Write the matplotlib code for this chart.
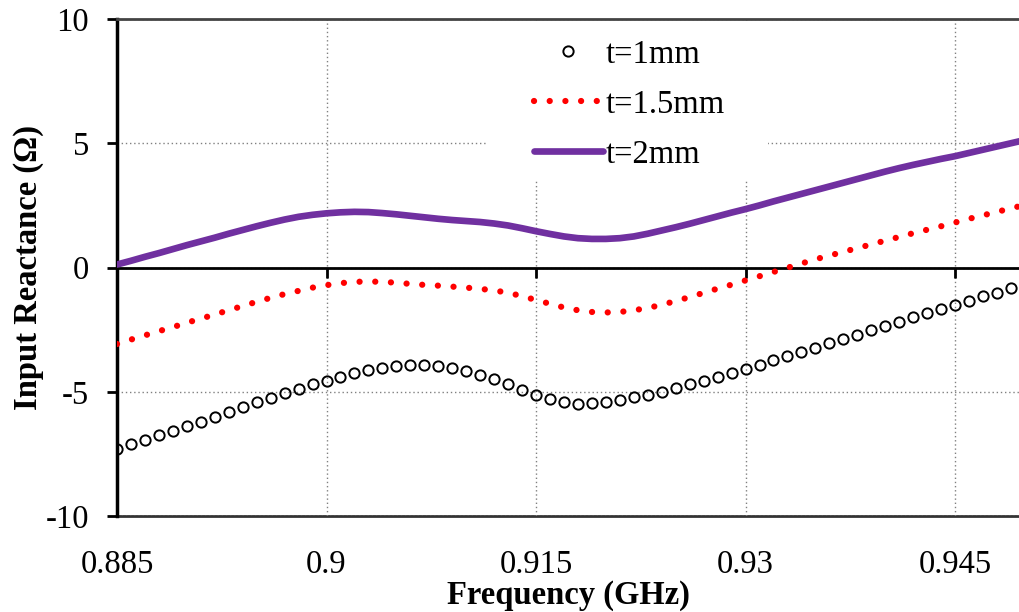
import matplotlib
matplotlib.use("Agg")
import numpy as np
import matplotlib.pyplot as plt
from matplotlib.patches import Rectangle

# Frequency grid (GHz), one reading every 1 MHz
freq = [0.885, 0.886, 0.887, 0.888, 0.889, 0.890, 0.891, 0.892, 0.893, 0.894,
        0.895, 0.896, 0.897, 0.898, 0.899, 0.900, 0.901, 0.902, 0.903, 0.904,
        0.905, 0.906, 0.907, 0.908, 0.909, 0.910, 0.911, 0.912, 0.913, 0.914,
        0.915, 0.916, 0.917, 0.918, 0.919, 0.920, 0.921, 0.922, 0.923, 0.924,
        0.925, 0.926, 0.927, 0.928, 0.929, 0.930, 0.931, 0.932, 0.933, 0.934,
        0.935, 0.936, 0.937, 0.938, 0.939, 0.940, 0.941, 0.942, 0.943, 0.944,
        0.945, 0.946, 0.947, 0.948, 0.949, 0.950]

# input reactance (ohm) for each thickness
x_t1 = [-7.31, -7.11, -6.94, -6.75, -6.57, -6.38, -6.20, -6.00, -5.81, -5.62,
        -5.43, -5.24, -5.07, -4.88, -4.70, -4.56, -4.40, -4.26, -4.13, -4.05,
        -3.98, -3.94, -3.94, -3.97, -4.05, -4.15, -4.31, -4.49, -4.70, -4.91,
        -5.12, -5.30, -5.42, -5.48, -5.47, -5.42, -5.34, -5.23, -5.12, -4.99,
        -4.85, -4.70, -4.56, -4.41, -4.25, -4.09, -3.91, -3.74, -3.56, -3.39,
        -3.23, -3.05, -2.88, -2.70, -2.53, -2.35, -2.18, -2.00, -1.83, -1.67,
        -1.49, -1.33, -1.16, -1.01, -0.83, -0.68]

x_t15 = [-3.08, -2.90, -2.73, -2.56, -2.40, -2.22, -2.06, -1.89, -1.72, -1.55,
         -1.38, -1.22, -1.07, -0.94, -0.81, -0.71, -0.63, -0.58, -0.56, -0.58,
         -0.61, -0.66, -0.70, -0.73, -0.77, -0.81, -0.86, -0.92, -1.02, -1.15,
         -1.31, -1.46, -1.61, -1.72, -1.79, -1.81, -1.79, -1.72, -1.63, -1.50,
         -1.35, -1.19, -1.02, -0.85, -0.69, -0.52, -0.35, -0.18, -0.01, 0.16,
         0.33, 0.48, 0.63, 0.78, 0.93, 1.08, 1.23, 1.38, 1.52, 1.66,
         1.81, 1.96, 2.10, 2.24, 2.38, 2.52]

x_t2 = [0.12, 0.27, 0.43, 0.58, 0.74, 0.90, 1.05, 1.20, 1.36, 1.51,
        1.66, 1.80, 1.93, 2.04, 2.12, 2.18, 2.22, 2.24, 2.23, 2.19,
        2.14, 2.08, 2.02, 1.96, 1.91, 1.87, 1.83, 1.77, 1.69, 1.58,
        1.46, 1.35, 1.25, 1.18, 1.15, 1.15, 1.18, 1.25, 1.36, 1.49,
        1.62, 1.76, 1.91, 2.06, 2.21, 2.35, 2.50, 2.66, 2.81, 2.96,
        3.11, 3.26, 3.41, 3.56, 3.71, 3.86, 4.00, 4.13, 4.25, 4.37,
        4.48, 4.61, 4.74, 4.87, 5.00, 5.13]

xticks = [0.885, 0.9, 0.915, 0.93, 0.945]
xtick_labels = ['0.885', '0.9', '0.915', '0.93', '0.945']
yticks = [10, 5, 0, -5, -10]
ytick_labels = ['10', '5', '0', '-5', '-10']

plt.rcParams['font.family'] = ['Liberation Serif', 'DejaVu Serif']
plt.rcParams['axes.unicode_minus'] = False

fig = plt.figure(figsize=(10.2, 6.12), dpi=100)
ax = fig.add_axes([117/1020, 1 - 516/612, 1 - 117/1020, (516 - 19)/612])

ax.plot(freq, x_t1, linestyle='none', marker='o', markersize=7.4,
        markerfacecolor='none', markeredgecolor='black', markeredgewidth=1.4,
        label='t=1mm', zorder=3)
ax.plot(freq, x_t15, color='red', linewidth=4.5, linestyle=(0, (0.01, 2.5)),
        dash_capstyle='round', label='t=1.5mm', zorder=3)
ax.plot(freq, x_t2, color='#7030A0', linewidth=4.8, solid_capstyle='round',
        label='t=2mm', zorder=3)

ax.set_xlim(0.885, 0.94965)
ax.set_ylim(-10, 10)

# dotted grid
ax.set_axisbelow(True)
ax.grid(True, color='#808080', linestyle=(0, (1, 2)), linewidth=1.0)

# white box behind the legend hides the grid
ax.add_patch(Rectangle((0.41, 0.678), 0.311, 0.316, transform=ax.transAxes,
                       facecolor='white', edgecolor='none', zorder=1))

# spines: x axis line crosses at zero
ax.spines['right'].set_visible(False)
ax.spines['top'].set_color('#444444')
ax.spines['top'].set_linewidth(2)
ax.spines['left'].set_linewidth(2.5)
ax.spines['bottom'].set_position(('data', 0))
ax.spines['bottom'].set_linewidth(2)

ax.set_xticks(xticks)
ax.set_xticklabels([])
ax.tick_params(axis='x', direction='out', length=7, width=2, labelbottom=False)
ax.set_yticks(yticks)
ax.set_yticklabels(ytick_labels, fontsize=23.5)
ax.tick_params(axis='y', direction='out', length=7, width=2, pad=13)

# bottom frame carries the frequency labels
sec = ax.secondary_xaxis('bottom')
sec.set_xticks(xticks)
sec.set_xticklabels(xtick_labels, fontsize=23.5)
sec.tick_params(axis='x', length=0, pad=24)
sec.spines['bottom'].set_linewidth(2)
sec.spines['bottom'].set_color('#333333')
sec.set_xlabel('Frequency (GHz)', fontsize=23.5, fontweight='bold', labelpad=0)

ax.set_ylabel('Input Reactance (Ω)', fontsize=23.5, fontweight='bold', labelpad=1.5)

ax.legend(loc='upper left', bbox_to_anchor=(0.433, 1.012), frameon=False,
          fontsize=23.5, handlelength=2.1, handletextpad=0.1,
          labelspacing=0.6, borderpad=0.3, numpoints=1)

fig.savefig('out.png', dpi=100)
